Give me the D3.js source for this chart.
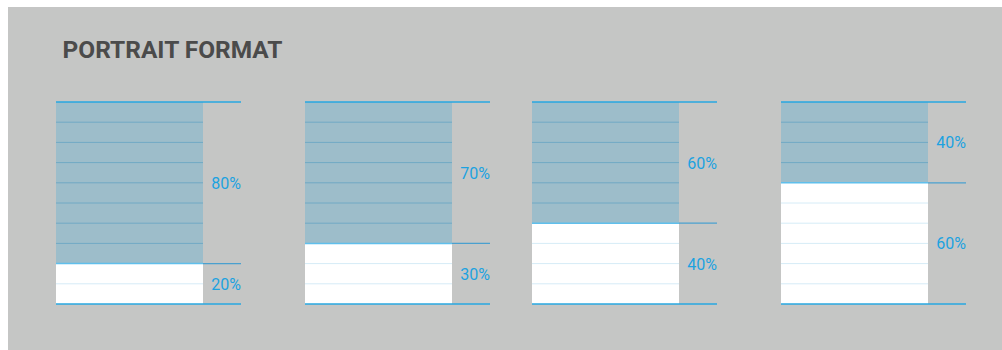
<!DOCTYPE html>
<html>
<head>
<meta charset="utf-8">
<script src="https://cdn.jsdelivr.net/npm/d3@7"></script>
<style>
  body { margin: 0; background: #fff; }
  svg { display: block; }
</style>
</head>
<body>
<div id="vis"></div>
<script>
var formats = ["A", "B", "C", "D"];
var topShare = [80, 70, 60, 40];
var bottomShare = [20, 30, 40, 60];
var gridSteps = [0, 10, 20, 30, 40, 50, 60, 70, 80, 90, 100];

var W = 1002, H = 350,
  panelX = [56, 305, 532, 781],
  barW = 147,
  lineW = 185,
  blue = "#1ca2e0";

var svg = d3.select("#vis")
  .append("svg")
  .attr("width", W)
  .attr("height", H);

// grey card
svg.append("rect")
  .attr("x", 8).attr("y", 7)
  .attr("width", W - 8).attr("height", H - 7)
  .attr("fill", "#c5c6c5");

svg.append("text")
  .attr("x", 62.5).attr("y", 58.3)
  .attr("font-family", "Roboto, 'DejaVu Sans', sans-serif")
  .attr("font-weight", "bold")
  .attr("font-size", 23)
  .attr("textLength", 220)
  .attr("lengthAdjust", "spacingAndGlyphs")
  .attr("fill", "#4b4b4b")
  .text("PORTRAIT FORMAT");

var y = d3.scaleLinear().domain([0, 100]).range([304, 102]);

formats.forEach(function(f, i) {
  var g = svg.append("g").attr("transform", "translate(" + panelX[i] + ",0)");
  var split = bottomShare[i];

  // bottom (white) block
  g.append("rect")
    .attr("x", 0).attr("y", y(split))
    .attr("width", barW).attr("height", y(0) - y(split))
    .attr("fill", "#ffffff");

  // top (shaded) block
  g.append("rect")
    .attr("x", 0).attr("y", y(100))
    .attr("width", barW).attr("height", y(split) - y(100))
    .attr("fill", "#9dbdca");

  // inner grid lines
  g.selectAll("line.grid")
    .data(gridSteps.filter(function(d) { return d > 0 && d < 100 && d != split; }))
    .enter().append("line")
    .attr("class", "grid")
    .attr("x1", 0).attr("x2", barW)
    .attr("y1", function(d) { return y(d); })
    .attr("y2", function(d) { return y(d); })
    .attr("stroke", function(d) { return d > split ? "#70a9c4" : "#d6ecf7"; })
    .attr("stroke-width", 1);

  // split line
  g.append("line")
    .attr("x1", 0).attr("x2", barW)
    .attr("y1", y(split)).attr("y2", y(split))
    .attr("stroke", "#5fbfec").attr("stroke-width", 1.5);
  g.append("line")
    .attr("x1", barW).attr("x2", lineW)
    .attr("y1", y(split)).attr("y2", y(split))
    .attr("stroke", "#4aa0cf").attr("stroke-width", 1.2);

  // top and bottom rules
  [0, 100].forEach(function(v) {
    g.append("line")
      .attr("x1", 0).attr("x2", lineW)
      .attr("y1", y(v)).attr("y2", y(v))
      .attr("stroke", "#27a7e1").attr("stroke-width", 1.3);
  });

  // labels
  g.append("text")
    .attr("x", lineW).attr("text-anchor", "end")
    .attr("y", y((100 + split) / 2) + 6)
    .attr("font-family", "Roboto, sans-serif")
    .attr("font-size", 16)
    .attr("fill", blue)
    .text(topShare[i] + "%");
  g.append("text")
    .attr("x", lineW).attr("text-anchor", "end")
    .attr("y", y(split / 2) + 6)
    .attr("font-family", "Roboto, sans-serif")
    .attr("font-size", 16)
    .attr("fill", blue)
    .text(bottomShare[i] + "%");
});
</script>
</body>
</html>
